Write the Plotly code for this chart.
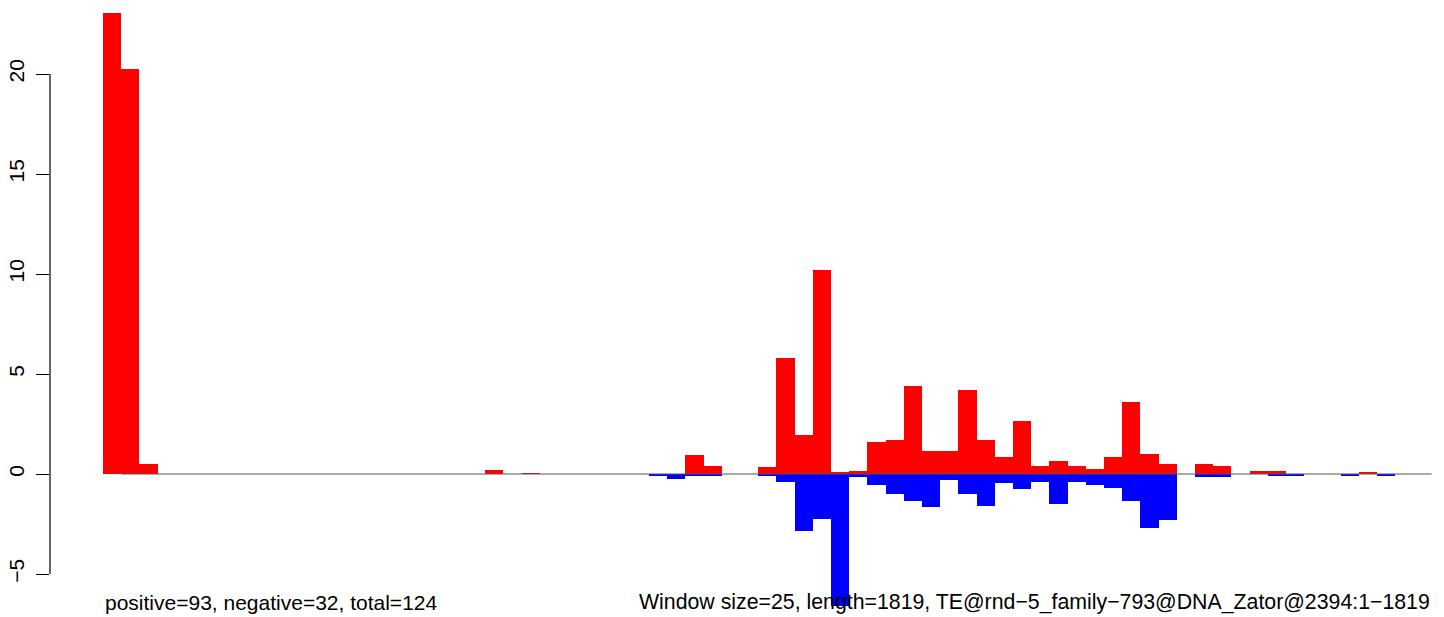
import plotly.graph_objects as go

# window index (0-based), window size 25, length 1819 -> 73 windows
n_windows = 73
pos_values = [23.05, 20.25, 0.5, 0, 0, 0, 0, 0, 0, 0,
              0, 0, 0, 0, 0, 0, 0, 0, 0, 0,
              0, 0.2, 0, 0.05, 0, 0, 0, 0, 0, 0,
              0, 0, 0.95, 0.4, 0, 0, 0.35, 5.8, 1.95, 10.2,
              0.07, 0.17, 1.6, 1.7, 4.4, 1.15, 1.15, 4.2, 1.7, 0.85,
              2.65, 0.4, 0.65, 0.4, 0.25, 0.85, 3.6, 1.0, 0.5, 0,
              0.5, 0.4, 0, 0.15, 0.15, 0, 0, 0, 0, 0.07,
              0, 0, 0]
neg_values = [0, 0, 0, 0, 0, 0, 0, 0, 0, 0,
              0, 0, 0, 0, 0, 0, 0, 0, 0, 0,
              0, 0, 0, 0, 0, 0, 0, 0, 0, 0,
              -0.1, -0.25, -0.1, -0.1, 0, 0, -0.1, -0.38, -2.83, -2.23,
              -6.6, -0.13, -0.53, -0.98, -1.33, -1.63, -0.28, -0.98, -1.58, -0.43,
              -0.73, -0.38, -1.48, -0.38, -0.53, -0.68, -1.33, -2.68, -2.28, 0,
              -0.13, -0.13, 0, 0, -0.08, -0.08, 0, 0, -0.08, 0,
              -0.08, 0, 0]
y_ticks = [-5, 0, 5, 10, 15, 20]
left_text = "positive=93, negative=32, total=124"
right_text = "Window size=25, length=1819, TE@rnd\u22125_family\u2212793@DNA_Zator@2394:1\u22121819"

x_centers = [i + 0.5 for i in range(n_windows)]
FONT = "Liberation Sans, Arial, sans-serif"

fig = go.Figure()
# baseline
fig.add_trace(go.Scatter(x=[1, n_windows], y=[0, 0], mode="lines",
                         line=dict(color="#555555", width=1.2),
                         hoverinfo="skip", showlegend=False))
fig.add_trace(go.Bar(x=x_centers, y=pos_values, width=1.0,
                     marker=dict(color="#ff0000", line=dict(width=0)),
                     showlegend=False))
fig.add_trace(go.Bar(x=x_centers, y=neg_values, width=1.0,
                     marker=dict(color="#0000ff", line=dict(width=0)),
                     showlegend=False))

# y axis spine from -5 to 20
fig.add_shape(type="line", xref="paper", yref="y", x0=0, x1=0,
              y0=min(y_ticks), y1=max(y_ticks),
              line=dict(color="black", width=1.2))

fig.add_annotation(text=left_text, xref="x", yref="paper", x=0, y=0.0246,
                   xanchor="left", yanchor="middle", showarrow=False,
                   font=dict(family=FONT, size=21, color="black"))
fig.add_annotation(text=right_text, xref="x", yref="paper", x=n_windows, y=0.0246,
                   xanchor="right", yanchor="middle", showarrow=False,
                   font=dict(family=FONT, size=21.3, color="black"))

fig.update_layout(
    width=1436, height=609,
    margin=dict(l=42, r=0, t=0, b=0),
    paper_bgcolor="white", plot_bgcolor="white",
    barmode="relative", bargap=0,
    xaxis=dict(range=[-2.912, 73.68], visible=False, fixedrange=True),
    yaxis=dict(range=[-7.15, 23.3], tickvals=y_ticks,
               ticktext=[str(v).replace("-", "\u2212") for v in y_ticks],
               ticks="outside", ticklen=13, tickwidth=1.2, tickcolor="black",
               tickangle=-90, showgrid=False, zeroline=False, showline=False,
               automargin=False, ticklabelstandoff=4,
               tickfont=dict(family=FONT, size=21, color="black")),
)

fig.write_html("out.html")
